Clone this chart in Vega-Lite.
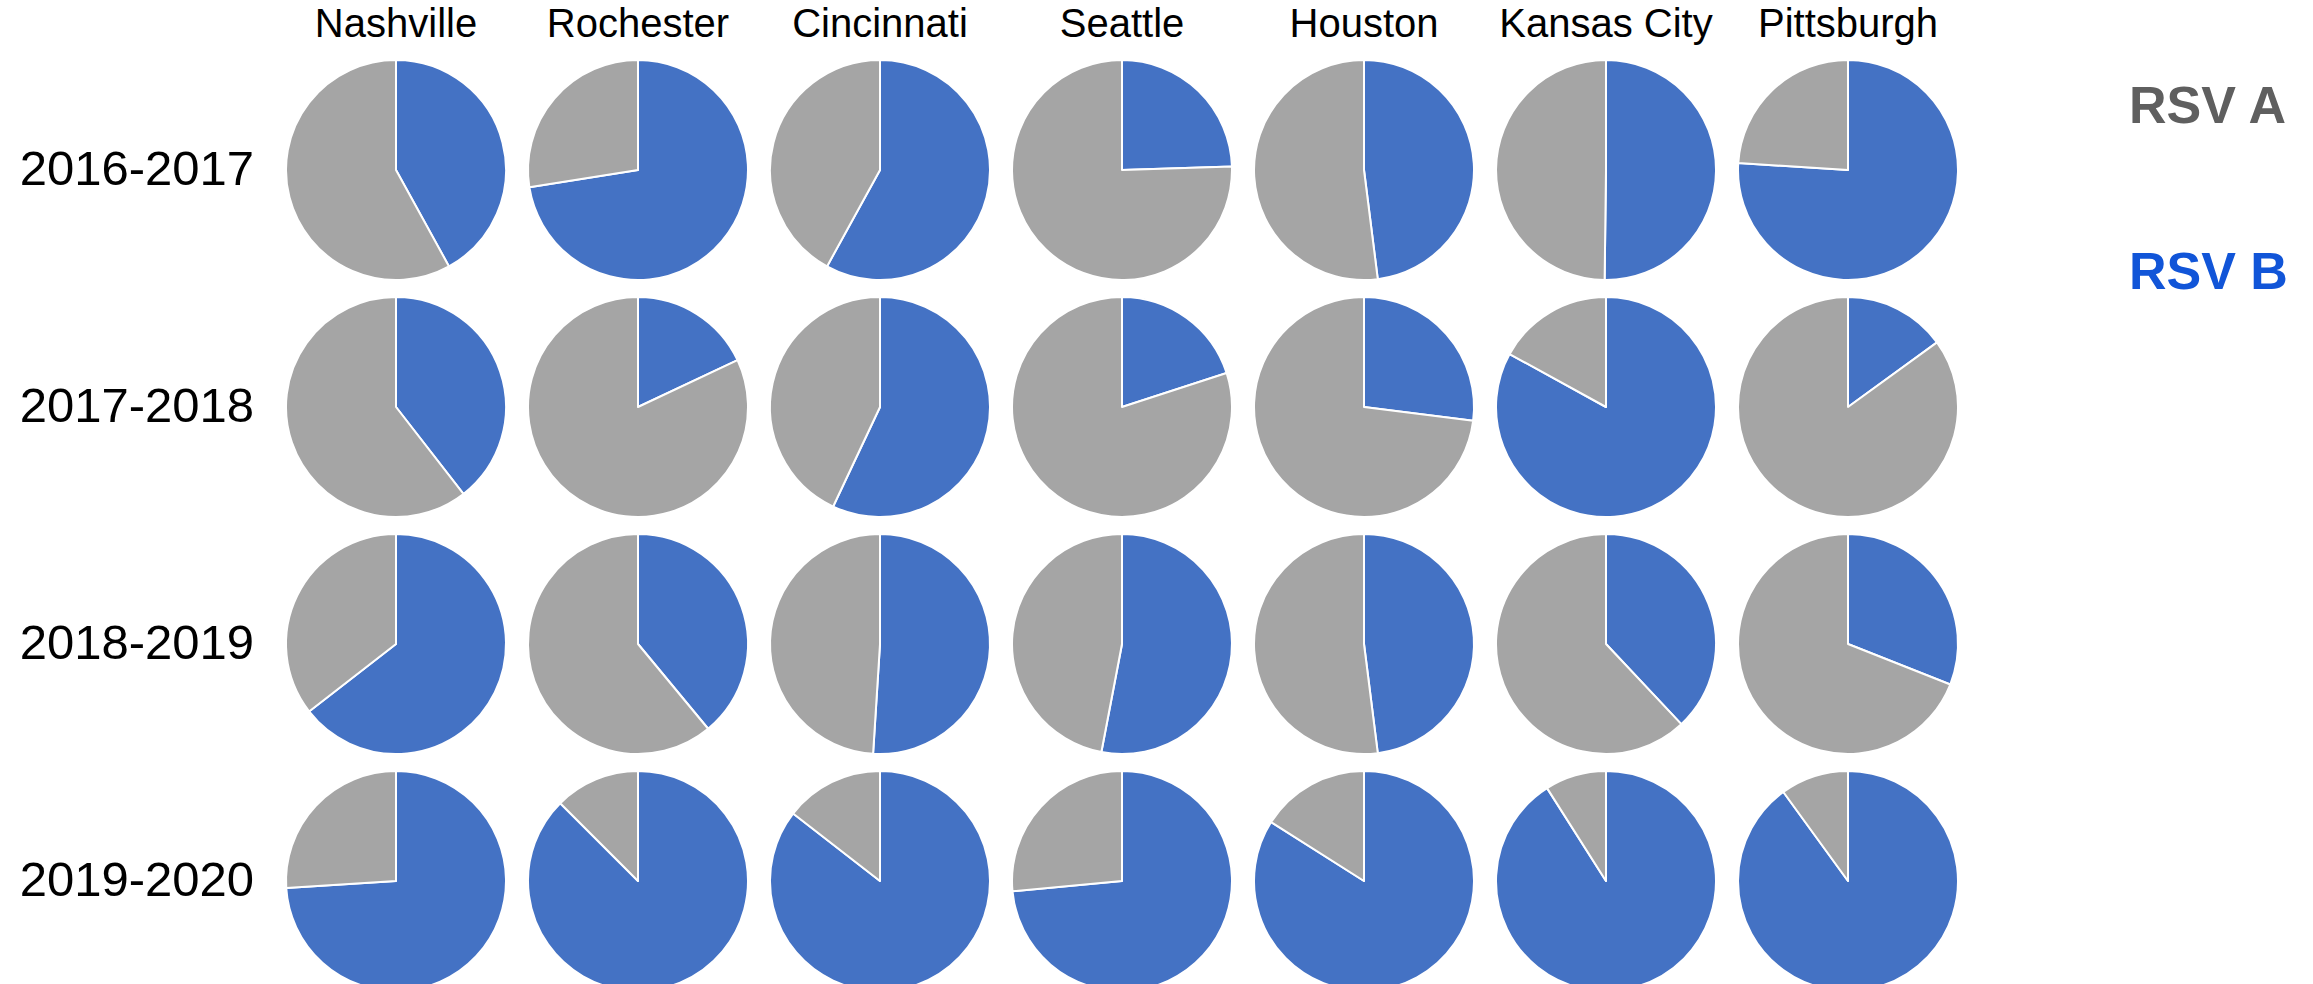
{
  "$schema": "https://vega.github.io/schema/vega-lite/v6.json",
  "padding": {"left": 19, "top": 5, "right": 0, "bottom": 0},
  "data": {"values": [
    {"s":"2016-2017","c":"Nashville","t":"RSV B","v":42},{"s":"2016-2017","c":"Nashville","t":"RSV A","v":58},
    {"s":"2016-2017","c":"Rochester","t":"RSV B","v":72.5},{"s":"2016-2017","c":"Rochester","t":"RSV A","v":27.5},
    {"s":"2016-2017","c":"Cincinnati","t":"RSV B","v":58},{"s":"2016-2017","c":"Cincinnati","t":"RSV A","v":42},
    {"s":"2016-2017","c":"Seattle","t":"RSV B","v":24.5},{"s":"2016-2017","c":"Seattle","t":"RSV A","v":75.5},
    {"s":"2016-2017","c":"Houston","t":"RSV B","v":48},{"s":"2016-2017","c":"Houston","t":"RSV A","v":52},
    {"s":"2016-2017","c":"Kansas City","t":"RSV B","v":50.2},{"s":"2016-2017","c":"Kansas City","t":"RSV A","v":49.8},
    {"s":"2016-2017","c":"Pittsburgh","t":"RSV B","v":76},{"s":"2016-2017","c":"Pittsburgh","t":"RSV A","v":24},
    {"s":"2017-2018","c":"Nashville","t":"RSV B","v":39.5},{"s":"2017-2018","c":"Nashville","t":"RSV A","v":60.5},
    {"s":"2017-2018","c":"Rochester","t":"RSV B","v":18},{"s":"2017-2018","c":"Rochester","t":"RSV A","v":82},
    {"s":"2017-2018","c":"Cincinnati","t":"RSV B","v":57},{"s":"2017-2018","c":"Cincinnati","t":"RSV A","v":43},
    {"s":"2017-2018","c":"Seattle","t":"RSV B","v":20},{"s":"2017-2018","c":"Seattle","t":"RSV A","v":80},
    {"s":"2017-2018","c":"Houston","t":"RSV B","v":27},{"s":"2017-2018","c":"Houston","t":"RSV A","v":73},
    {"s":"2017-2018","c":"Kansas City","t":"RSV B","v":83},{"s":"2017-2018","c":"Kansas City","t":"RSV A","v":17},
    {"s":"2017-2018","c":"Pittsburgh","t":"RSV B","v":15},{"s":"2017-2018","c":"Pittsburgh","t":"RSV A","v":85},
    {"s":"2018-2019","c":"Nashville","t":"RSV B","v":64.5},{"s":"2018-2019","c":"Nashville","t":"RSV A","v":35.5},
    {"s":"2018-2019","c":"Rochester","t":"RSV B","v":39},{"s":"2018-2019","c":"Rochester","t":"RSV A","v":61},
    {"s":"2018-2019","c":"Cincinnati","t":"RSV B","v":51},{"s":"2018-2019","c":"Cincinnati","t":"RSV A","v":49},
    {"s":"2018-2019","c":"Seattle","t":"RSV B","v":53},{"s":"2018-2019","c":"Seattle","t":"RSV A","v":47},
    {"s":"2018-2019","c":"Houston","t":"RSV B","v":48},{"s":"2018-2019","c":"Houston","t":"RSV A","v":52},
    {"s":"2018-2019","c":"Kansas City","t":"RSV B","v":38},{"s":"2018-2019","c":"Kansas City","t":"RSV A","v":62},
    {"s":"2018-2019","c":"Pittsburgh","t":"RSV B","v":31},{"s":"2018-2019","c":"Pittsburgh","t":"RSV A","v":69},
    {"s":"2019-2020","c":"Nashville","t":"RSV B","v":74},{"s":"2019-2020","c":"Nashville","t":"RSV A","v":26},
    {"s":"2019-2020","c":"Rochester","t":"RSV B","v":87.5},{"s":"2019-2020","c":"Rochester","t":"RSV A","v":12.5},
    {"s":"2019-2020","c":"Cincinnati","t":"RSV B","v":85.5},{"s":"2019-2020","c":"Cincinnati","t":"RSV A","v":14.5},
    {"s":"2019-2020","c":"Seattle","t":"RSV B","v":73.5},{"s":"2019-2020","c":"Seattle","t":"RSV A","v":26.5},
    {"s":"2019-2020","c":"Houston","t":"RSV B","v":84},{"s":"2019-2020","c":"Houston","t":"RSV A","v":16},
    {"s":"2019-2020","c":"Kansas City","t":"RSV B","v":91},{"s":"2019-2020","c":"Kansas City","t":"RSV A","v":9},
    {"s":"2019-2020","c":"Pittsburgh","t":"RSV B","v":90},{"s":"2019-2020","c":"Pittsburgh","t":"RSV A","v":10}
  ]},
  "facet": {
    "row": {"field": "s", "type": "nominal", "title": null,
      "header": {"labelOrient": "left", "labelAngle": 0, "labelAlign": "left", "labelBaseline": "middle", "labelFontSize": 49, "labelColor": "#000000", "labelFont": "Liberation Sans", "labelPadding": 31}},
    "column": {"field": "c", "type": "nominal", "title": null,
      "sort": ["Nashville","Rochester","Cincinnati","Seattle","Houston","Kansas City","Pittsburgh"],
      "header": {"labelOrient": "top", "labelFontSize": 40, "labelColor": "#000000", "labelFont": "Liberation Sans", "labelBaseline": "alphabetic", "labelPadding": -18}}
  },
  "spacing": {"row": 15, "column": 20},
  "spec": {
    "width": 220,
    "height": 220,
    "mark": {"type": "arc", "stroke": "#ffffff", "strokeWidth": 2, "strokeJoin": "round"},
    "encoding": {
      "theta": {"field": "v", "type": "quantitative", "stack": true},
      "color": {"field": "t", "type": "nominal",
        "scale": {"domain": ["RSV A","RSV B"], "range": ["#A5A5A5","#4472C4"]},
        "legend": {"title": null, "orient": "right", "offset": 97, "padding": 21, "symbolOpacity": 0, "symbolSize": 0, "symbolStrokeWidth": 0, "labelOffset": 0,
          "labelFontSize": 52, "labelFontWeight": "bold", "labelFont": "Liberation Sans", "rowPadding": 114,
          "labelColor": {"expr": "datum.label === 'RSV A' ? '#5f5f5f' : '#1155d8'"},
          "encode": {"labels": {"update": {"fill": {"signal": "datum.label === 'RSV A' ? '#5f5f5f' : '#1155d8'"}}}}}},
      "order": {"field": "t", "sort": "descending"}
    }
  },
  "config": {"view": {"stroke": null}, "font": "Liberation Sans"}
}
